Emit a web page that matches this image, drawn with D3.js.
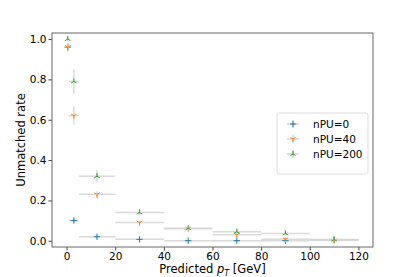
<!DOCTYPE html>
<html>
<head>
<meta charset="utf-8">
<script src="https://cdn.jsdelivr.net/npm/d3@7"></script>
<style>
  body { margin: 0; background: #fff; }
  text { font-family: "DejaVu Sans", sans-serif; }
</style>
</head>
<body>
<div id="chart"></div>
<script>
// bins of predicted pT
const binLow  = [0, 1, 5, 20, 40, 60, 80, 100];
const binHigh = [1, 5, 20, 40, 60, 80, 100, 120];
const binMid  = [0.5, 3, 12.5, 30, 50, 70, 90, 110];

const seriesNames = ['nPU=0', 'nPU=40', 'nPU=200'];
const rate0   = [0.96, 0.10, 0.02, 0.007, 0.0, 0.0, 0.0, 0.005];
const rate40  = [0.96, 0.62, 0.23, 0.09, 0.06, 0.03, 0.007, 0.002];
const rate200 = [1.0, 0.79, 0.32, 0.14, 0.062, 0.045, 0.036, 0.006];
const err0    = [0.02, 0.01, 0.005, 0.003, 0.002, 0.002, 0.002, 0.003];
const err40   = [0.02, 0.045, 0.015, 0.01, 0.008, 0.006, 0.004, 0.003];
const err200  = [0.01, 0.06, 0.03, 0.015, 0.01, 0.008, 0.008, 0.004];

const xTicks = [0, 20, 40, 60, 80, 100, 120];
const yTicks = [0, 0.2, 0.4, 0.6, 0.8, 1.0];

const colors = ['#1f77b4', '#ff7f0e', '#2ca02c'];
const markers = ['plus', 'tridown', 'triup'];

const series = seriesNames.map((name, i) => ({
  name,
  color: colors[i],
  marker: markers[i],
  values: [rate0, rate40, rate200][i],
  errs: [err0, err40, err200][i],
}));

const width = 415, height = 277;
const area = { left: 52, right: 373, top: 33, bottom: 247 };

const svg = d3.select('#chart').append('svg')
  .attr('width', width).attr('height', height);

const xScale = d3.scaleLinear().domain([-6, 126]).range([area.left, area.right]);
const yScale = d3.scaleLinear().domain([-0.031, 1.03]).range([area.bottom, area.top]);

// marker path
function markerPath(type, r) {
  if (type === 'plus') return `M${-r},0H${r}M0,${-r}V${r}`;
  const a = Math.cos(Math.PI / 6) * r, b = r / 2;
  if (type === 'tridown') return `M0,0V${r}M0,0L${-a},${-b}M0,0L${a},${-b}`;
  return `M0,0V${-r}M0,0L${-a},${b}M0,0L${a},${b}`;
}

// Plot data
series.forEach((s) => {
  const g = svg.append('g');
  const pts = binMid.map((x, i) => ({ x, lo: binLow[i], hi: binHigh[i], y: s.values[i], e: s.errs[i] }));
  g.selectAll('line.xe').data(pts).join('line')
    .attr('x1', (d) => xScale(d.lo)).attr('x2', (d) => xScale(d.hi))
    .attr('y1', (d) => yScale(d.y)).attr('y2', (d) => yScale(d.y))
    .attr('stroke', '#d3d3d3').attr('stroke-width', 1.5).attr('stroke-opacity', 0.85);
  g.selectAll('line.ye').data(pts).join('line')
    .attr('x1', (d) => xScale(d.x)).attr('x2', (d) => xScale(d.x))
    .attr('y1', (d) => yScale(d.y - d.e)).attr('y2', (d) => yScale(d.y + d.e))
    .attr('stroke', '#d3d3d3').attr('stroke-width', 1.5).attr('stroke-opacity', 0.85);
  g.selectAll('path').data(pts).join('path')
    .attr('transform', (d) => `translate(${xScale(d.x)},${yScale(d.y)})`)
    .attr('d', markerPath(s.marker, 3.2))
    .attr('fill', 'none').attr('stroke', s.color).attr('stroke-width', 1);
});

// Axes
const xAxis = svg.append('g')
  .attr('transform', `translate(0,${area.bottom})`)
  .call(d3.axisBottom(xScale).tickValues(xTicks).tickSize(3.5).tickPadding(2).tickFormat(d3.format('d')));
const yAxis = svg.append('g')
  .attr('transform', `translate(${area.left},0)`)
  .call(d3.axisLeft(yScale).tickValues(yTicks).tickSize(3.5).tickPadding(2).tickFormat(d3.format('.1f')));
[xAxis, yAxis].forEach((ax) => {
  ax.select('.domain').remove();
  ax.selectAll('.tick line').attr('stroke', '#444');
  ax.selectAll('.tick text').attr('fill', '#000').style('font-size', '10.5px')
    .style('font-family', '"DejaVu Sans", sans-serif');
});

// Spines
svg.append('rect')
  .attr('x', area.left).attr('y', area.top)
  .attr('width', area.right - area.left).attr('height', area.bottom - area.top)
  .attr('fill', 'none').attr('stroke', '#666').attr('stroke-width', 1);

// Axis labels
svg.append('text')
  .attr('transform', `translate(25,${(area.top + area.bottom) / 2}) rotate(-90)`)
  .attr('text-anchor', 'middle').style('font-size', '11.5px')
  .text('Unmatched rate');

const xl = svg.append('text')
  .attr('x', (area.left + area.right) / 2).attr('y', 273)
  .attr('text-anchor', 'middle').style('font-size', '11.5px');
xl.append('tspan').text('Predicted ');
xl.append('tspan').style('font-style', 'italic').text('p');
xl.append('tspan').attr('dy', 2.5).style('font-size', '8px').style('font-style', 'italic').text('T');
xl.append('tspan').attr('dy', -2.5).text(' [GeV]');

// Legend
const legend = svg.append('g').attr('transform', 'translate(277,113)');
legend.append('rect')
  .attr('width', 91).attr('height', 61).attr('rx', 2)
  .attr('fill', '#fff').attr('fill-opacity', 0.8)
  .attr('stroke', '#ddd');
series.forEach((s, i) => {
  const row = legend.append('g').attr('transform', `translate(16,${11 + i * 15})`);
  row.append('path').attr('d', 'M-6,0H6M0,-4V4')
    .attr('stroke', '#d3d3d3').attr('stroke-width', 1.5);
  row.append('path').attr('d', markerPath(s.marker, 3))
    .attr('fill', 'none').attr('stroke', s.color).attr('stroke-width', 1);
  row.append('text').attr('x', 20).attr('y', 4)
    .style('font-size', '10.5px').text(s.name);
});
</script>
</body>
</html>
